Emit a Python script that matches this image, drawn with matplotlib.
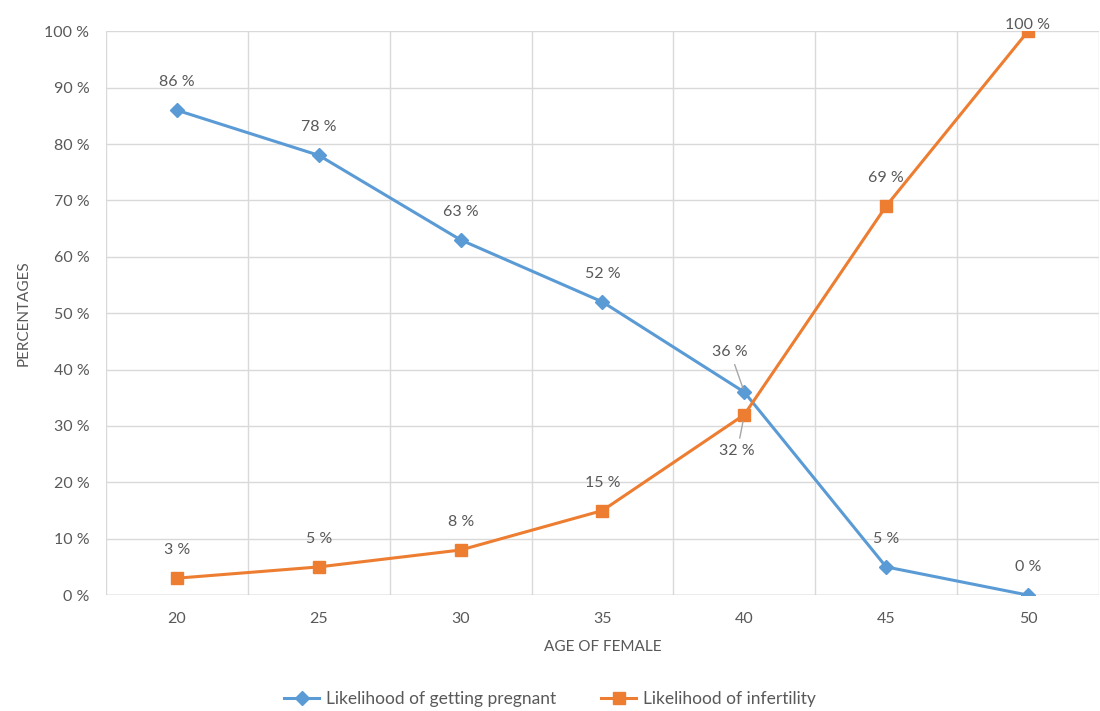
import matplotlib.pyplot as plt

# Age groups and the two likelihood series (percent)
ages = ['20', '25', '30', '35', '40', '45', '50']
pregnant = [86, 78, 63, 52, 36, 5, 0]
infertility = [3, 5, 8, 15, 32, 69, 100]
y_ticks = [0, 10, 20, 30, 40, 50, 60, 70, 80, 90, 100]

blue = '#5B9BD5'
orange = '#ED7D31'
text_col = '#595959'
grid_col = '#D9D9D9'

plt.rcParams['font.family'] = ['Lato', 'DejaVu Sans']

fig = plt.figure(figsize=(11, 7.11), dpi=100)
ax = fig.add_axes([0.0964, 0.163, 0.9026, 0.793])

x = list(range(len(ages)))
ax.plot(x, pregnant, color=blue, lw=2.2, marker='D', ms=7, label='Likelihood of getting pregnant', zorder=3)
ax.plot(x, infertility, color=orange, lw=2.2, marker='s', ms=8.5, label='Likelihood of infertility', zorder=3)

ax.set_xlim(-0.5, len(ages) - 0.5)
ax.set_ylim(0, 100)
ax.set_xticks(x)
ax.set_xticklabels(ages)
ax.set_yticks(y_ticks)
ax.set_yticklabels([f'{v} %' for v in y_ticks])

# category separators and horizontal gridlines
for b in range(len(ages) + 1):
    ax.axvline(b - 0.5, color=grid_col, lw=1, zorder=1)
for v in y_ticks:
    ax.axhline(v, color=grid_col, lw=1, zorder=1)

for s in ax.spines.values():
    s.set_visible(False)
ax.axhline(0, color='#BFBFBF', lw=1, zorder=2)
ax.tick_params(length=0, colors=text_col, labelsize=11.5)
ax.tick_params(axis='x', pad=12)
ax.tick_params(axis='y', pad=12)

ax.set_xlabel('AGE OF FEMALE', color=text_col, fontsize=11, labelpad=10)
ax.set_ylabel('PERCENTAGES', color=text_col, fontsize=11, labelpad=10)

lbl = dict(color=text_col, fontsize=11.5, ha='center', va='center', textcoords='offset pixels')

# value labels for the pregnancy series
for i, v in enumerate(pregnant):
    if i == 4:
        ax.annotate(f'{v} %', (i, v), xytext=(-14, 40), arrowprops=dict(arrowstyle='-', color='#A6A6A6', lw=1, shrinkA=2, shrinkB=3), **lbl)
    else:
        ax.annotate(f'{v} %', (i, v), xytext=(0, 28), **lbl)

# value labels for the infertility series
for i, v in enumerate(infertility):
    if i == 4:
        ax.annotate(f'{v} %', (i, v), xytext=(-7, -36), arrowprops=dict(arrowstyle='-', color='#A6A6A6', lw=1, shrinkA=2, shrinkB=5), **lbl)
    elif i == 6:
        ax.annotate(f'{v} %', (i, v), xytext=(0, 6), **lbl)
    else:
        ax.annotate(f'{v} %', (i, v), xytext=(0, 28), **lbl)

fig.legend(loc='center', bbox_to_anchor=(0.5, 0.017), ncol=2, frameon=False,
           fontsize=12.5, labelcolor=text_col, columnspacing=2.6, handlelength=2.0, handletextpad=0.4)

fig.savefig('out.png', dpi=100)
